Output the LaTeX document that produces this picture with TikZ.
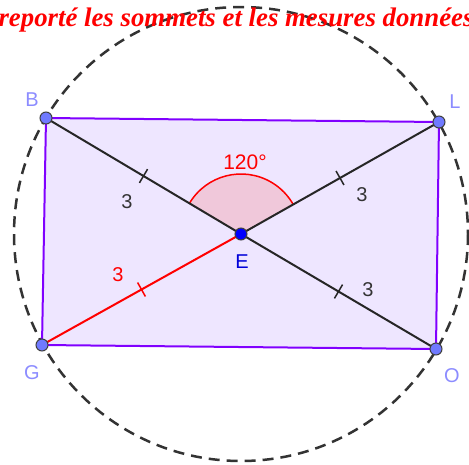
\documentclass[tikz,border=0pt]{standalone}
\usepackage{fontspec}
\setmainfont{Liberation Sans}
\newfontfamily\titlefont{Liberation Serif}
\usetikzlibrary{decorations.markings}

\definecolor{rectfill}{RGB}{238,230,255}
\definecolor{rectline}{RGB}{128,0,255}
\definecolor{sectorfill}{RGB}{240,200,218}
\definecolor{ptblue}{RGB}{112,122,255}
\definecolor{lblblue}{RGB}{140,140,255}
\definecolor{centreblue}{RGB}{0,0,255}

\begin{document}
\begin{tikzpicture}[
    x=1pt, y=-1pt,
    vertex/.style={
        circle, draw=black!75, line width=1pt, fill=ptblue,
        inner sep=0pt, minimum size=12pt
    },
    centre/.style={vertex, fill=centreblue},
    vlabel/.style={font=\fontsize{20}{20}\selectfont, text=lblblue},
    seglabel/.style={font=\fontsize{20}{20}\selectfont, text=black!80},
    ticked/.style={
        postaction={decorate},
        decoration={markings,
            mark=at position 0.5 with {\draw[line width=1.5pt] (0,-8) -- (0,8);}}
    },
]
\useasboundingbox (0,0) rectangle (469,464);

% vertices of the rectangle and its centre
\coordinate (B) at (46,118);
\coordinate (L) at (439,122);
\coordinate (O) at (436,349);
\coordinate (G) at (42,345);
\coordinate (E) at (241,234);

% rectangle BLOG (fill)
\fill[rectfill] (B) -- (L) -- (O) -- (G) -- cycle;

% angle BEL = 120 degrees
\fill[sectorfill] (E) -- ++(210.7:60) arc (210.7:330.5:60) -- cycle;
\draw[red, line width=1.5pt] (E) ++(210.7:60) arc (210.7:330.5:60);
\node[font=\fontsize{21}{21}\selectfont, text=red] (ang) at (245,162) {120°};

% half diagonals, each of length 3
\draw[ticked, line width=2pt, black!85] (E) -- (B);
\draw[ticked, line width=2pt, black!85] (E) -- (L);
\draw[ticked, line width=2pt, black!85] (E) -- (O);
\draw[ticked, line width=2pt, red] (E) -- (G);

% rectangle BLOG (border)
\draw[rectline, line width=2pt] (B) -- (L) -- (O) -- (G) -- cycle;

% circumscribed circle
\draw[black!80, line width=2.5pt, dash pattern=on 11pt off 7pt] (E) circle[radius=227];

% points
\node[vertex] (Bpt) at (B) {};
\node[vertex] (Lpt) at (L) {};
\node[vertex] (Opt) at (O) {};
\node[vertex] (Gpt) at (G) {};
\node[centre] (Ept) at (E) {};

% point names
\node[vlabel] (Blbl) at (32,100) {B};
\node[vlabel] (Llbl) at (455,102) {L};
\node[vlabel] (Glbl) at (32,373) {G};
\node[vlabel] (Olbl) at (452,376) {O};
\node[vlabel, text=centreblue!85!black] (Elbl) at (242,262) {E};

% lengths
\node[seglabel] (lEB) at (127,202) {3};
\node[seglabel] (lEL) at (362,195) {3};
\node[seglabel, text=red] (lEG) at (118,275) {3};
\node[seglabel] (lEO) at (368,290) {3};

% heading (cropped in the reference)
\node[font=\titlefont\bfseries\itshape\fontsize{26.8}{26.8}\selectfont, text=red,
      anchor=base] (title) at (236,26) {reporté les sommets et les mesures données};

\end{tikzpicture}
\end{document}
